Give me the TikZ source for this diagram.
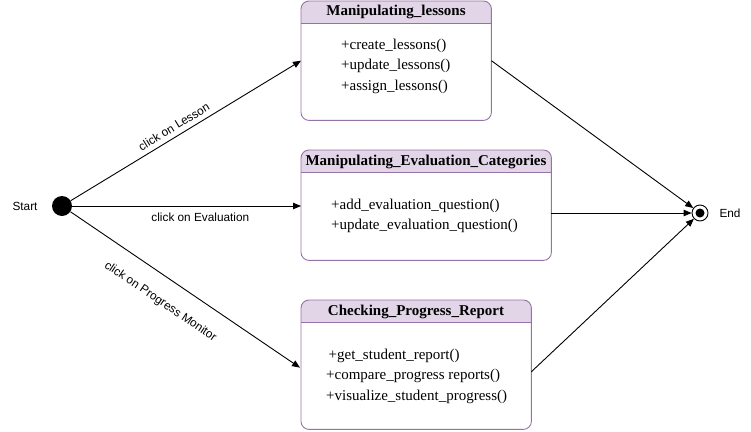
\documentclass[tikz,border=0pt]{standalone}
\usepackage{fontspec}
\setmainfont{Liberation Serif}
\newfontfamily\arialfont{Liberation Sans}
\usetikzlibrary{arrows.meta,calc}
\definecolor{hdrfill}{HTML}{E1D5E7}
\definecolor{hdrline}{HTML}{9673A6}
\tikzset{
  statebox/.style={draw=none, inner sep=0, rectangle},
  boxline/.style={draw=hdrline, line width=0.9pt},
  hdrtext/.style={font=\fontsize{15}{17}\selectfont\bfseries, inner sep=0},
  bodytext/.style={font=\fontsize{15}{20.5}\selectfont, align=left, inner sep=0, anchor=west},
  lbl/.style={font=\arialfont\fontsize{11.8}{13}\selectfont, inner sep=0},
  arr/.style={draw=black, line width=0.9pt, -{Triangle[length=8pt,width=6.5pt]}},
}
\newcommand{\umlbox}[4]{% name, nw corner, width, height
  \node[statebox, minimum width=#3, minimum height=#4, anchor=north west] (#1) at #2 {};
  \begin{scope}
    \clip[rounded corners=8pt] (#1.south west) rectangle (#1.north east);
    \fill[hdrfill] (#1.north west) rectangle ($(#1.north east)+(0,-22)$);
  \end{scope}
  \draw[boxline] ($(#1.north west)+(0,-22)$) -- ($(#1.north east)+(0,-22)$);
  \draw[boxline, rounded corners=8pt] (#1.south west) rectangle (#1.north east);
}
\begin{document}
\begin{tikzpicture}[x=1pt,y=1pt]
\useasboundingbox (0,0) rectangle (751,-431);
\fill[white] (0,0) rectangle (751,-431);

\umlbox{b1}{(301,-1)}{190pt}{119pt}
\umlbox{b2}{(301,-150)}{250pt}{110pt}
\umlbox{b3}{(301,-300)}{230pt}{129pt}

\node[hdrtext] (h1) at (396,-12) {Manipulating\_lessons};
\node[hdrtext] (h2) at (426,-162) {Manipulating\_Evaluation\_Categories};
\node[hdrtext] (h3) at (416,-312) {Checking\_Progress\_Report};

\node[bodytext] (t1) at (341,-66) {+create\_lessons()\\+update\_lessons()\\+assign\_lessons()};
\node[bodytext] (t2) at (331,-216) {+add\_evaluation\_question()\\+update\_evaluation\_question()};
\node[bodytext] (t3) at (326,-376) {\,+get\_student\_report()\\+compare\_progress reports()\\+visualize\_student\_progress()};

\node[circle, fill=black, minimum size=20pt, inner sep=0] (start) at (62,-206) {};
\node[lbl] (startlbl) at (25,-206) {Start};

\node[circle, draw=black, fill=white, line width=0.9pt, minimum size=16pt, inner sep=0] (fin) at (700,-213) {};
\node[circle, fill=black, minimum size=9pt, inner sep=0] (fincore) at (fin.center) {};
\node[lbl] (finlbl) at (730,-213) {End};

\coordinate (b2out) at (b2.east |- fin);
\coordinate (b3out) at ($(b3.east)+(0,-7)$);
\coordinate (b3in) at ($(b3.west)+(-1,-3)$);

\draw[arr] (start) -- (b1.west) node[lbl, pos=0.47, sloped, above=5pt] {click on Lesson};
\draw[arr] (start) -- (b2.west |- start) node[lbl, pos=0.56, below=6pt] {click on Evaluation};
\draw[arr] (start) -- (b3in) node[lbl, pos=0.45, sloped, below=18pt] {click on Progress Monitor};

\draw[arr] (b1.east) -- (fin);
\draw[arr] (b2out) -- (fin);
\draw[arr] (b3out) -- (fin);
\end{tikzpicture}
\end{document}
